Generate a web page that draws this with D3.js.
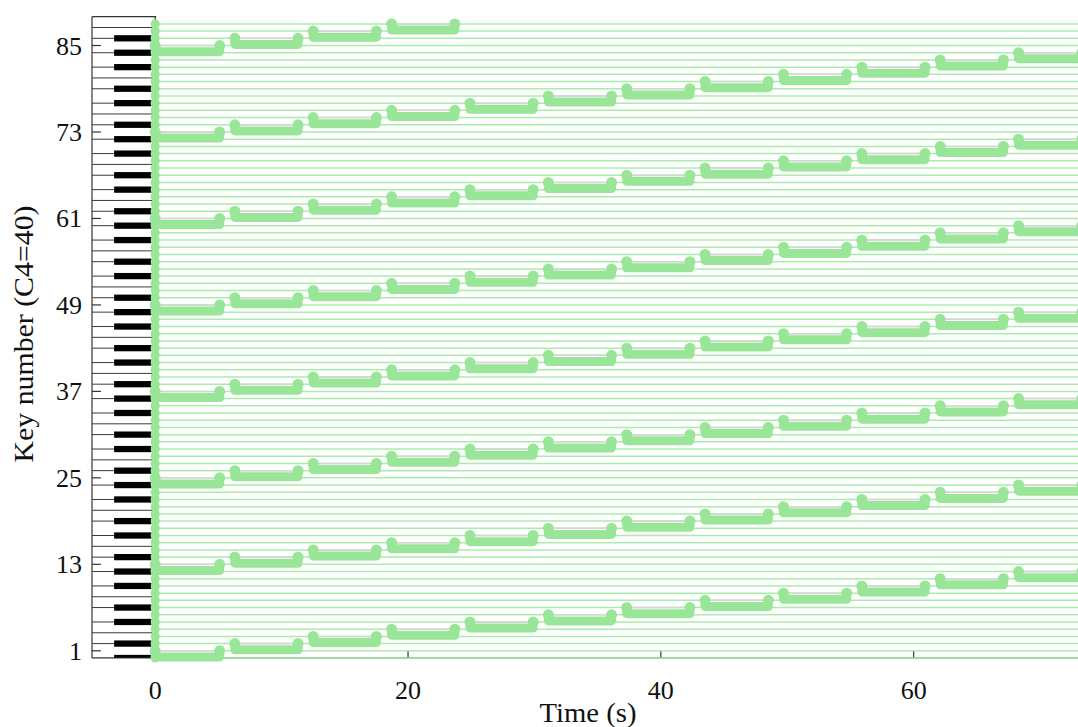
<!DOCTYPE html>
<html><head><meta charset="utf-8">
<script src="https://cdn.jsdelivr.net/npm/d3@7"></script>
<style>
html,body{margin:0;padding:0;background:#fff;}
svg{display:block;}
text{font-family:"Liberation Serif","Times New Roman",serif;fill:#111;}
</style></head>
<body>
<svg id="chart" width="1078" height="727"></svg>
<script>
// ---------- data ----------
const keyTicks = [1, 13, 25, 37, 49, 61, 73, 85];
const timeTicks = [0, 20, 40, 60];
const segStarts = [0.0, 6.3, 12.5, 18.7, 24.9, 31.1, 37.3, 43.5, 49.7, 55.9, 62.1, 68.3];
const segEnds   = [5.1, 11.3, 17.5, 23.7, 29.9, 36.1, 42.3, 48.5, 54.7, 60.9, 67.1, 73.3];
const segmentKeys = [
  [1, 13, 25, 37, 49, 61, 73, 85],
  [2, 14, 26, 38, 50, 62, 74, 86],
  [3, 15, 27, 39, 51, 63, 75, 87],
  [4, 16, 28, 40, 52, 64, 76, 88],
  [5, 17, 29, 41, 53, 65, 77],
  [6, 18, 30, 42, 54, 66, 78],
  [7, 19, 31, 43, 55, 67, 79],
  [8, 20, 32, 44, 56, 68, 80],
  [9, 21, 33, 45, 57, 69, 81],
  [10, 22, 34, 46, 58, 70, 82],
  [11, 23, 35, 47, 59, 71, 83],
  [12, 24, 36, 48, 60, 72, 84]
];
const blackPitchClasses = [1, 4, 6, 9, 11];   // relative to A (key 1 = A0)
const boundaryPitchClasses = [2, 7];          // B|C and E|F white-key boundaries
const keyDomain = [0, 89];
const timeDomain = [-5, 73];
const keyboardStart = -5, blackKeyStart = -3.25, blackKeyEnd = -0.3;

// ---------- layout ----------
const svg = d3.select("#chart");
const x = d3.scaleLinear().domain(timeDomain).range([92, 1078]);
const y = d3.scaleLinear().domain(keyDomain).range([658, 16.7]);
const allKeys = d3.range(keyDomain[0], 89);
const pc = k => ((k - 1) % 12 + 12) % 12;
const green = "#99e699";
const thinGreen = "#abebab";
const dyBar = 0.85;

svg.append("defs").append("clipPath").attr("id", "clip")
  .append("rect").attr("x", x(timeDomain[0])).attr("y", y(keyDomain[1]))
  .attr("width", x(timeDomain[1]) - x(timeDomain[0])).attr("height", y(keyDomain[0]) - y(keyDomain[1]));

const kb = svg.append("g").attr("clip-path", "url(#clip)");
const bounds = [];
allKeys.forEach(k => {
  if (blackPitchClasses.includes(pc(k))) bounds.push(k);
  if (boundaryPitchClasses.includes(pc(k))) bounds.push(k + 0.5);
});
kb.selectAll("line.wb").data(bounds).join("line").attr("class", "wb")
  .attr("x1", x(keyboardStart)).attr("x2", x(0))
  .attr("y1", d => y(d)).attr("y2", d => y(d))
  .attr("stroke", "#3a3a3a").attr("stroke-width", 1);
const bh = y(0) - y(0.87);
kb.selectAll("rect.bk").data(allKeys.filter(k => blackPitchClasses.includes(pc(k))))
  .join("rect").attr("class", "bk")
  .attr("x", x(blackKeyStart)).attr("width", x(blackKeyEnd) - x(blackKeyStart))
  .attr("y", d => y(d) - bh / 2).attr("height", bh).attr("fill", "#000");

const ax = svg.append("g").attr("stroke", "#333").attr("stroke-width", 1.2).attr("fill", "none");
ax.append("line").attr("x1", x(timeDomain[0])).attr("x2", x(timeDomain[0]))
  .attr("y1", y(keyDomain[1])).attr("y2", y(keyDomain[0]));
ax.append("line").attr("x1", x(timeDomain[0])).attr("x2", x(timeDomain[1]))
  .attr("y1", y(keyDomain[0])).attr("y2", y(keyDomain[0]));
ax.append("line").attr("x1", x(timeDomain[0])).attr("x2", x(0) + 1)
  .attr("y1", y(keyDomain[1])).attr("y2", y(keyDomain[1]));
ax.append("line").attr("x1", x(0)).attr("x2", x(0))
  .attr("y1", y(keyDomain[1])).attr("y2", y(keyDomain[1]) + 5);
ax.selectAll("line.yt").data(keyTicks).join("line").attr("class", "yt")
  .attr("x1", x(timeDomain[0])).attr("x2", x(timeDomain[0]) + 9)
  .attr("y1", d => y(d)).attr("y2", d => y(d));
ax.selectAll("line.xt").data(timeTicks).join("line").attr("class", "xt")
  .attr("x1", d => x(d)).attr("x2", d => x(d))
  .attr("y1", y(keyDomain[0])).attr("y2", y(keyDomain[0]) - 8);

svg.selectAll("text.yl").data(keyTicks).join("text").attr("class", "yl")
  .attr("x", x(timeDomain[0]) - 10).attr("y", d => y(d) + 9)
  .attr("text-anchor", "end").attr("font-size", 26).text(d => d);
svg.selectAll("text.xl").data(timeTicks).join("text").attr("class", "xl")
  .attr("x", d => x(d)).attr("y", 699)
  .attr("text-anchor", "middle").attr("font-size", 26).text(d => d);
svg.append("text").attr("x", 588).attr("y", 722).attr("text-anchor", "middle")
  .attr("font-size", 27).attr("textLength", 97).attr("lengthAdjust", "spacingAndGlyphs").text("Time (s)");
svg.append("text").attr("transform", "translate(33,334) rotate(-90)").attr("text-anchor", "middle")
  .attr("font-size", 27).attr("textLength", 257).attr("lengthAdjust", "spacingAndGlyphs").text("Key number (C4=40)");

// ---------- notes ----------
const g = svg.append("g");
g.selectAll("line.kl").data(allKeys).join("line").attr("class", "kl")
  .attr("x1", x(0)).attr("x2", x(timeDomain[1]))
  .attr("y1", d => y(d)).attr("y2", d => y(d))
  .attr("stroke", thinGreen).attr("stroke-width", 1.5);

const segs = [];
segmentKeys.forEach((keys, i) => keys.forEach(k => segs.push({t0: segStarts[i], t1: segEnds[i], k})));
g.selectAll("line.gl").data(segs).join("line").attr("class", "gl")
  .attr("x1", d => x(d.t0)).attr("x2", d => x(d.t1))
  .attr("y1", d => y(d.k)).attr("y2", d => y(d.k))
  .attr("stroke", "#d6d6d6").attr("stroke-width", 1.5);
g.selectAll("path.note").data(segs).join("path").attr("class", "note")
  .attr("d", d => `M${x(d.t0)},${y(d.k)}L${x(d.t0)},${y(d.k - dyBar)}L${x(d.t1)},${y(d.k - dyBar)}L${x(d.t1)},${y(d.k)}`)
  .attr("fill", "none").attr("stroke", green).attr("stroke-width", 9)
  .attr("stroke-linejoin", "round").attr("stroke-linecap", "round");
g.selectAll("circle.nd").data(segs.flatMap(d => [{t: d.t0, k: d.k}, {t: d.t1, k: d.k}]))
  .join("circle").attr("class", "nd")
  .attr("cx", d => x(d.t)).attr("cy", d => y(d.k)).attr("r", 5.5).attr("fill", green);

g.append("line").attr("x1", x(0)).attr("x2", x(0))
  .attr("y1", y(0)).attr("y2", y(88))
  .attr("stroke", green).attr("stroke-width", 6.5);
g.selectAll("circle.cd").data(allKeys).join("circle").attr("class", "cd")
  .attr("cx", x(0)).attr("cy", d => y(d)).attr("r", 4.6).attr("fill", green);
</script>
</body></html>
